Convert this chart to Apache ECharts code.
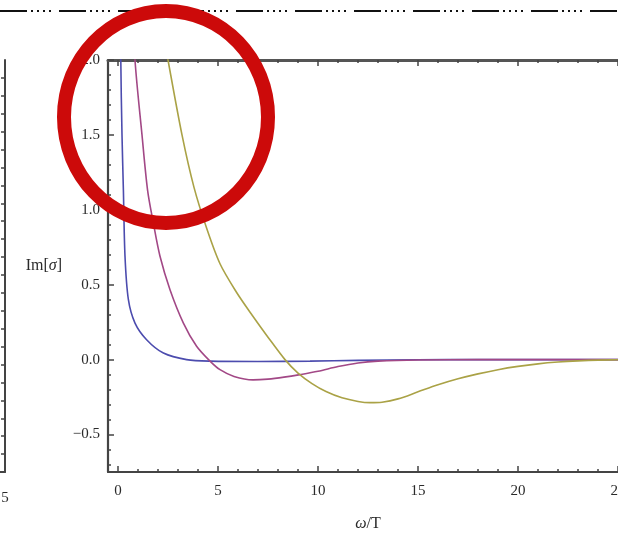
<!DOCTYPE html>
<html>
<head>
<meta charset="utf-8">
<script src="https://cdn.jsdelivr.net/npm/echarts@6/dist/echarts.min.js"></script>
<style>
  html, body { margin: 0; padding: 0; background: #fff; }
  #chart { width: 618px; height: 538px; }
</style>
</head>
<body>
<div id="chart"></div>
<script>
// Im[sigma] versus omega/T for three temperatures
const curveLow = [
  [0.08, 3.2], [0.14, 2.0], [0.2, 1.5], [0.27, 1.13], [0.35, 0.69], [0.52, 0.4],
  [0.85, 0.244], [1.43, 0.133], [2.27, 0.044], [3.43, 0.0], [4.6, -0.01],
  [7.0, -0.012], [9.6, -0.01], [12, -0.005], [15, -0.001], [18, 0], [25.5, 0]
];
const curveMid = [
  [0.7, 2.5], [0.85, 2.0], [1.2, 1.5], [1.48, 1.13], [1.77, 0.91], [2.1, 0.69],
  [2.6, 0.467], [3.27, 0.244], [3.93, 0.089], [4.6, -0.01], [5.1, -0.067],
  [5.8, -0.112], [6.75, -0.135], [7.5, -0.13], [8.3, -0.117], [9.1, -0.1],
  [10, -0.078], [11, -0.046], [12, -0.022], [13, -0.01], [15, -0.002],
  [18, 0], [25.5, 0]
];
const curveHigh = [
  [2.35, 2.12], [2.5, 2.0], [3.2, 1.5], [3.8, 1.15], [4.45, 0.87], [5.1, 0.64],
  [5.9, 0.455], [6.7, 0.298], [7.5, 0.15], [8.35, 0.0], [9.0, -0.09],
  [9.7, -0.16], [10.4, -0.213], [11.2, -0.255], [12.0, -0.279], [12.6, -0.287],
  [13.2, -0.284], [14, -0.262], [15, -0.215], [16, -0.168], [17, -0.128],
  [18, -0.095], [19, -0.067], [20, -0.045], [21, -0.028], [22, -0.016],
  [23, -0.008], [24, -0.003], [25.5, 0]
];

// tick positions
const xMajor = [0, 5, 10, 15, 20, 25];
const xMinor = [1, 2, 3, 4, 6, 7, 8, 9, 11, 12, 13, 14, 16, 17, 18, 19, 21, 22, 23, 24];
const yMajor = [-0.5, 0, 0.5, 1.0, 1.5, 2.0];
const yMinor = [-0.7, -0.6, -0.4, -0.3, -0.2, -0.1, 0.1, 0.2, 0.3, 0.4, 0.6, 0.7, 0.8, 0.9,
                1.1, 1.2, 1.3, 1.4, 1.6, 1.7, 1.8, 1.9];
// neighbouring panel, only its right edge shows
const sideTicks = [1, 2, 3, 4, 5, 6, 7, 8, 9, 10, 11, 12, 13, 14, 15, 16, 17, 18, 19, 20, 21, 22];

const serif = '"Liberation Serif", "DejaVu Serif", serif';
const frameColor = '#444';
const labelStyle = { fontFamily: serif, fontSize: 15, color: '#2a2a2a' };
const nameStyle = {
  fontFamily: serif, fontSize: 16, color: '#2a2a2a',
  rich: { i: { fontFamily: serif, fontSize: 16, fontStyle: 'italic', color: '#2a2a2a' } }
};
const fmt = v => (Math.abs(v) < 1e-9 ? '0.0' : v.toFixed(1).replace('-', '\u2212'));

function xAx(opts) {
  return Object.assign({
    type: 'value', gridIndex: 0, min: -0.5, max: 25.5,
    splitLine: { show: false },
    axisLine: { show: false, onZero: false },
    axisLabel: { show: false },
    axisTick: { show: false }
  }, opts);
}
function yAx(opts) {
  return Object.assign({
    type: 'value', gridIndex: 0, min: -0.75, max: 2.0,
    splitLine: { show: false },
    axisLine: { show: false, onZero: false },
    axisLabel: { show: false },
    axisTick: { show: false }
  }, opts);
}

const chart = echarts.init(document.getElementById('chart'), null, { renderer: 'canvas' });

const curveStyle = { type: 'line', xAxisIndex: 0, yAxisIndex: 0, smooth: 0.3,
                     showSymbol: false, clip: true };

chart.setOption({
  backgroundColor: '#ffffff',
  animation: false,
  grid: [
    { left: 108, top: 60, width: 520, height: 412, containLabel: false,
      outerBoundsMode: 'none' },
    { left: -200, top: 60, width: 205, height: 412, containLabel: false,
      outerBoundsMode: 'none' }
  ],
  xAxis: [
    xAx({
      position: 'bottom',
      name: '{i|\u03c9}/T',
      nameLocation: 'middle',
      nameGap: 44,
      nameTextStyle: nameStyle,
      axisLine: { show: true, onZero: false, lineStyle: { color: frameColor, width: 2 } },
      axisLabel: Object.assign({ show: true, margin: 12, customValues: xMajor,
                                 formatter: v => String(v) }, labelStyle),
      axisTick: { show: true, inside: true, length: 6, customValues: xMajor,
                  lineStyle: { color: frameColor, width: 1.5 } }
    }),
    xAx({
      position: 'bottom',
      axisTick: { show: true, inside: true, length: 3, customValues: xMinor,
                  lineStyle: { color: frameColor, width: 1.5 } }
    }),
    xAx({
      position: 'top',
      axisLine: { show: true, onZero: false, lineStyle: { color: '#555', width: 3 } },
      axisTick: { show: true, inside: true, length: 6, customValues: xMajor,
                  lineStyle: { color: frameColor, width: 1.5 } }
    }),
    xAx({
      position: 'top',
      axisTick: { show: true, inside: true, length: 3, customValues: xMinor,
                  lineStyle: { color: frameColor, width: 1.5 } }
    }),
    {
      type: 'value', gridIndex: 1, min: 0, max: 5, position: 'bottom',
      splitLine: { show: false },
      axisLine: { show: true, onZero: false, lineStyle: { color: frameColor, width: 2 } },
      axisLabel: Object.assign({ show: true, margin: 19, customValues: [5] }, labelStyle),
      axisTick: { show: false }
    }
  ],
  yAxis: [
    yAx({
      position: 'left',
      name: 'Im[{i|\u03c3}]',
      nameLocation: 'middle',
      nameRotate: 0,
      nameGap: 46,
      nameTextStyle: nameStyle,
      axisLine: { show: true, onZero: false, lineStyle: { color: frameColor, width: 2.2 } },
      axisLabel: Object.assign({ show: true, margin: 8, customValues: yMajor,
                                 formatter: fmt }, labelStyle),
      axisTick: { show: true, inside: true, length: 6, customValues: yMajor,
                  lineStyle: { color: frameColor, width: 1.5 } }
    }),
    yAx({
      position: 'left',
      axisTick: { show: true, inside: true, length: 3, customValues: yMinor,
                  lineStyle: { color: frameColor, width: 1.5 } }
    }),
    {
      type: 'value', gridIndex: 1, min: 0, max: 23, position: 'right',
      splitLine: { show: false },
      axisLine: { show: true, onZero: false, lineStyle: { color: frameColor, width: 2 } },
      axisLabel: { show: false },
      axisTick: { show: true, inside: true, length: 4, customValues: sideTicks,
                  lineStyle: { color: frameColor, width: 1.5 } }
    }
  ],
  series: [
    Object.assign({ data: curveLow, lineStyle: { color: '#4c4cae', width: 1.6 } }, curveStyle),
    Object.assign({ data: curveMid, lineStyle: { color: '#a24886', width: 1.6 } }, curveStyle),
    Object.assign({ data: curveHigh, lineStyle: { color: '#aaa246', width: 1.6 } }, curveStyle)
  ],
  graphic: [
    // dash-dot separator rule across the top
    { type: 'line', z: 10, shape: { x1: 0, y1: 11, x2: 618, y2: 11 },
      style: { stroke: '#111', lineWidth: 2.2,
               lineDash: [27, 4, 2, 4, 2, 4, 2, 4, 2, 8] } },
    // red highlight ring
    { type: 'ellipse', z: 20, shape: { cx: 166, cy: 117, rx: 102, ry: 106 },
      style: { fill: 'none', stroke: '#cc0a0a', lineWidth: 14 } }
  ]
});
</script>
</body>
</html>
